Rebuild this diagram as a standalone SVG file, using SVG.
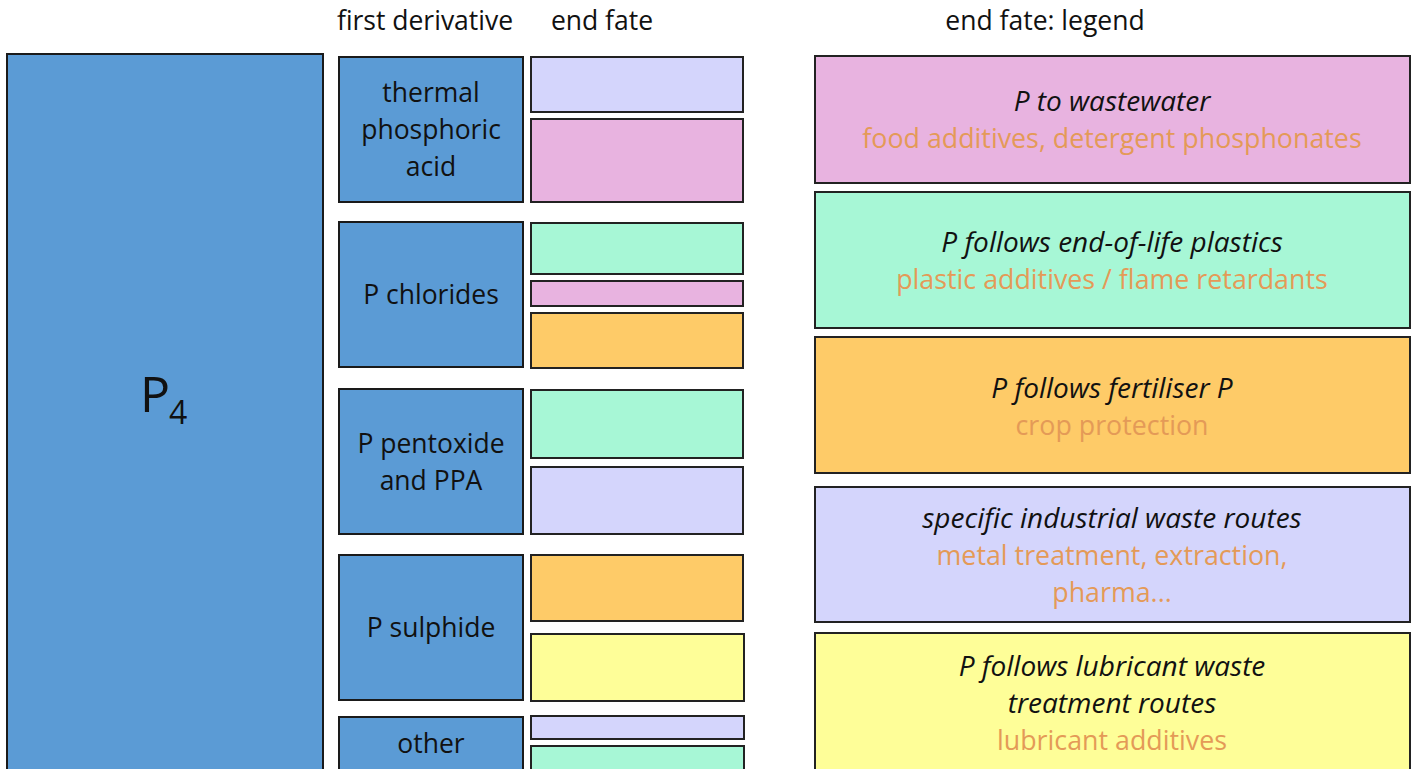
<svg xmlns="http://www.w3.org/2000/svg" width="1415" height="769" viewBox="0 0 1415 769">
<style>
text{font-family:"Open Sans","Noto Sans","Liberation Sans",sans-serif;text-anchor:middle;fill:#111}
.b{fill:#5B9BD5;stroke:#1a1a1a;stroke-width:2}
.lav{fill:#D4D5FC;stroke:#222;stroke-width:2}
.pink{fill:#E8B3E0;stroke:#222;stroke-width:2}
.grn{fill:#A7F7D6;stroke:#222;stroke-width:2}
.org{fill:#FECB68;stroke:#222;stroke-width:2}
.yel{fill:#FEFE98;stroke:#222;stroke-width:2}
.lbl{font-size:26.5px}
.hd{font-size:26.5px}
.it{font-size:28px;font-style:italic}
.or{font-size:26.8px;fill:#E49A57}
</style>
<g id="headers">
<text class="hd" x="425" y="30">first derivative</text>
<text class="hd" x="602" y="30">end fate</text>
<text class="hd" x="1045" y="30">end fate: legend</text>
</g>
<g id="p4">
<rect class="b" x="7" y="54" width="316" height="730"/>
<text x="140" y="412" font-size="50" style="text-anchor:start">P</text>
<text x="169" y="424" font-size="32" style="text-anchor:start">4</text>
</g>
<g id="thermal">
<rect class="b" x="339" y="57" width="184" height="145"/>
<text class="lbl" x="431" y="102">thermal</text>
<text class="lbl" x="431" y="139">phosphoric</text>
<text class="lbl" x="431" y="176">acid</text>
</g>
<g id="chlorides">
<rect class="b" x="339" y="222" width="184" height="145"/>
<text class="lbl" x="431" y="304">P chlorides</text>
</g>
<g id="pentoxide">
<rect class="b" x="339" y="389" width="184" height="145"/>
<text class="lbl" x="431" y="453">P pentoxide</text>
<text class="lbl" x="431" y="490">and PPA</text>
</g>
<g id="sulphide">
<rect class="b" x="339" y="555" width="184" height="145"/>
<text class="lbl" x="431" y="637">P sulphide</text>
</g>
<g id="other">
<rect class="b" x="339" y="717" width="184" height="80"/>
<text class="lbl" x="431" y="753">other</text>
</g>
<g id="endfate">
<rect class="lav" x="531" y="57" width="212" height="55"/>
<rect class="pink" x="531" y="119" width="212" height="83"/>
<rect class="grn" x="531" y="223" width="212" height="51"/>
<rect class="pink" x="531" y="281" width="212" height="25"/>
<rect class="org" x="531" y="313" width="212" height="55"/>
<rect class="grn" x="531" y="390" width="212" height="68"/>
<rect class="lav" x="531" y="467" width="212" height="67"/>
<rect class="org" x="531" y="555" width="212" height="66"/>
<rect class="yel" x="531" y="634" width="213" height="67"/>
<rect class="lav" x="531" y="716" width="213" height="23"/>
<rect class="grn" x="531" y="746" width="213" height="40"/>
</g>
<g id="legend-wastewater">
<rect class="pink" x="815" y="56" width="595" height="127"/>
<text class="it" x="1112" y="111">P to wastewater</text>
<text class="or" x="1112" y="148">food additives, detergent phosphonates</text>
</g>
<g id="legend-plastics">
<rect class="grn" x="815" y="192" width="595" height="136"/>
<text class="it" x="1112" y="252">P follows end-of-life plastics</text>
<text class="or" x="1112" y="289">plastic additives / flame retardants</text>
</g>
<g id="legend-fertiliser">
<rect class="org" x="815" y="337" width="595" height="136"/>
<text class="it" x="1112" y="398">P follows fertiliser P</text>
<text class="or" x="1112" y="435">crop protection</text>
</g>
<g id="legend-industrial">
<rect class="lav" x="815" y="487" width="595" height="135"/>
<text class="it" x="1112" y="528">specific industrial waste routes</text>
<text class="or" x="1112" y="565">metal treatment, extraction,</text>
<text class="or" x="1112" y="602">pharma...</text>
</g>
<g id="legend-lubricant">
<rect class="yel" x="815" y="633" width="595" height="160"/>
<text class="it" x="1112" y="676">P follows lubricant waste</text>
<text class="it" x="1112" y="713">treatment routes</text>
<text class="or" x="1112" y="750">lubricant additives</text>
</g>
<g id="connectors"></g>
</svg>
